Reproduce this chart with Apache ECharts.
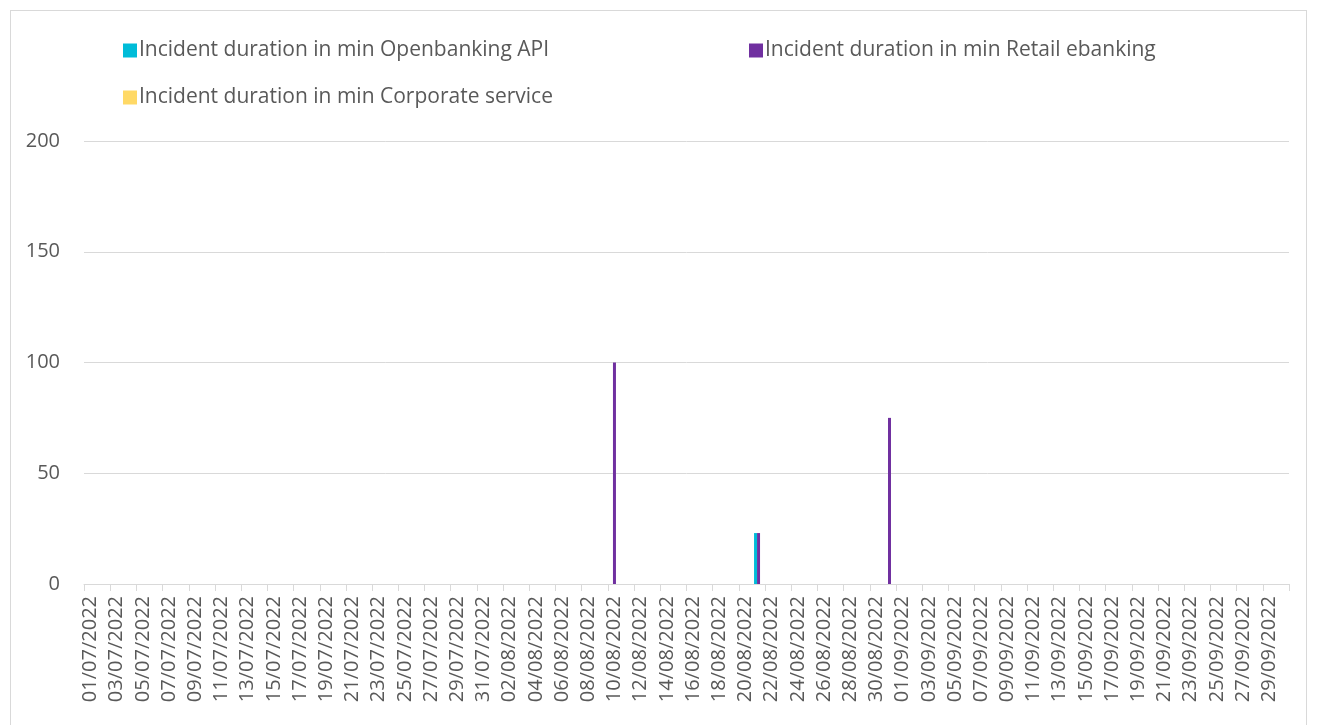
<!DOCTYPE html>
<html>
<head>
<meta charset="utf-8">
<script src="https://cdn.jsdelivr.net/npm/echarts@6/dist/echarts.min.js"></script>
<style>
  html, body { margin: 0; padding: 0; background: #fff; }
  .frame {
    position: absolute; left: 10px; top: 10px; width: 1297px; height: 730px;
    border: 1px solid #d9d9d9; box-sizing: border-box;
  }
  #chart { position: absolute; left: 0; top: 0; width: 1320px; height: 725px; }
</style>
</head>
<body>
<div class="frame"></div>
<div id="chart"></div>
<script>
// dates 01/07/2022 .. 30/09/2022
var monthDays = [[7, 31], [8, 31], [9, 30]]
var dates = []
monthDays.forEach(function (m) {
  for (var d = 1; d <= m[1]; d++) {
    dates.push((d < 10 ? '0' : '') + d + '/0' + m[0] + '/2022')
  }
})

var seriesNames = [
  'Incident duration in min Openbanking API',
  'Incident duration in min Retail ebanking',
  'Incident duration in min Corporate service'
]
// non-zero incidents only, everything else is 0
var openbankingIncidents = { '21/08/2022': 23 }
var retailIncidents = { '10/08/2022': 100, '21/08/2022': 23, '31/08/2022': 75 }
var corporateIncidents = {}
var yTicks = [0, 50, 100, 150, 200]

var colors = ['#00BCD8', '#7030A0', '#FFD966']

function fill (map) {
  return dates.map(function (d) { return map[d] || 0 })
}
var seriesData = [fill(openbankingIncidents), fill(retailIncidents), fill(corporateIncidents)]

var textColor = '#595959'
var font = 'Open Sans'

var legends = [
  { left: 118, top: 35 },
  { left: 744, top: 35 },
  { left: 118, top: 82 }
].map(function (pos, i) {
  return {
    left: pos.left, top: pos.top,
    data: [seriesNames[i]],
    itemWidth: 14, itemHeight: 14, itemGap: 0,
    icon: 'rect',
    textStyle: { color: textColor, fontSize: 21, fontFamily: font, padding: [0, 0, 0, -3] }
  }
})

var myChart = echarts.init(document.getElementById('chart'))
myChart.setOption({
  animation: false,
  color: colors,
  legend: legends,
  grid: { left: 84, right: 31, top: 141, bottom: 141 },
  xAxis: {
    type: 'category',
    data: dates,
    axisLine: { lineStyle: { color: '#d9d9d9' } },
    axisTick: { show: true, interval: 1, length: 7, lineStyle: { color: '#d9d9d9' } },
    axisLabel: {
      interval: 1, rotate: 90, color: textColor, fontSize: 20, fontFamily: font, margin: 12
    }
  },
  yAxis: {
    type: 'value',
    min: yTicks[0], max: yTicks[yTicks.length - 1], interval: 50,
    axisLine: { show: false },
    axisTick: { show: false },
    splitLine: { lineStyle: { color: '#d9d9d9' } },
    axisLabel: { color: textColor, fontSize: 20, fontFamily: font, margin: 24 }
  },
  series: seriesData.map(function (data, i) {
    return {
      name: seriesNames[i],
      type: 'bar',
      data: data,
      barWidth: 3,
      barGap: '0%'
    }
  })
})
</script>
</body>
</html>
